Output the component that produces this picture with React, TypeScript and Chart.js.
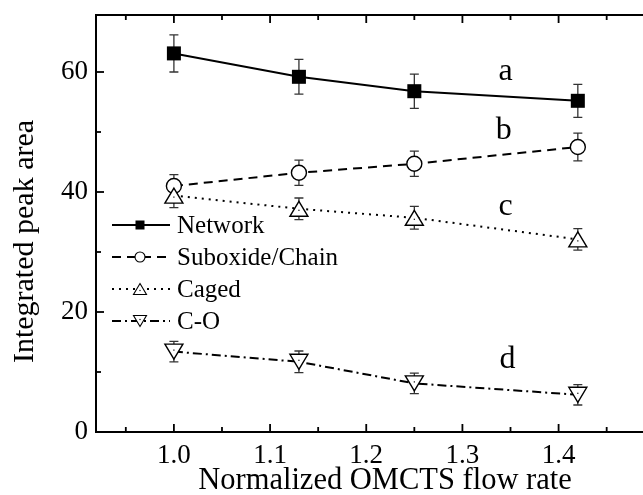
import React, { useEffect, useRef } from 'react';
import { Chart, registerables } from 'chart.js';

Chart.register(...registerables);

// ---- data ----
const flowRates = [1.0, 1.13, 1.25, 1.42];
const networkArea = [63.1, 59.2, 56.8, 55.2];
const networkErr = [3.1, 2.9, 2.85, 2.75];
const suboxideArea = [41.0, 43.2, 44.7, 47.5];
const suboxideErr = [1.9, 2.1, 2.1, 2.3];
const cagedArea = [39.4, 37.2, 35.7, 32.1];
const cagedErr = [2.0, 1.8, 1.9, 1.8];
const coArea = [13.4, 11.7, 8.1, 6.2];
const coErr = [1.7, 1.8, 1.7, 1.7];
const seriesNames = ['Network', 'Suboxide/Chain', 'Caged', 'C-O'];

const curveLabels = ['a', 'b', 'c', 'd'];
const curveLabelX = [1.345, 1.343, 1.345, 1.347];
const curveLabelY = [58.7, 48.9, 36.1, 10.6];

const xMajorTicks = [1.0, 1.1, 1.2, 1.3, 1.4];
const xMinorTicks = [0.95, 1.05, 1.15, 1.25, 1.35, 1.45];
const yMajorTicks = [0, 20, 40, 60];
const yMinorTicks = [10, 30, 50];

const xTitle = 'Normalized OMCTS flow rate';
const yTitle = 'Integrated peak area';

const FONT = "'Liberation Serif', 'DejaVu Serif', serif";

type MarkerKind = 'square' | 'circle' | 'up' | 'down';

function drawMarker(ctx: CanvasRenderingContext2D, kind: MarkerKind, x: number, y: number, w: number, h: number, lw: number) {
  ctx.save();
  ctx.lineWidth = lw;
  ctx.strokeStyle = '#000';
  ctx.fillStyle = '#fff';
  ctx.setLineDash([]);
  ctx.lineJoin = 'miter';
  if (kind === 'square') {
    ctx.fillStyle = '#000';
    ctx.fillRect(x - w / 2, y - h / 2, w, h);
  } else if (kind === 'circle') {
    ctx.beginPath();
    ctx.arc(x, y, w / 2, 0, Math.PI * 2);
    ctx.fill();
    ctx.stroke();
  } else {
    const dir = kind === 'up' ? 1 : -1;
    ctx.beginPath();
    ctx.moveTo(x, y - (dir * h) / 2);
    ctx.lineTo(x + w / 2, y + (dir * h) / 2);
    ctx.lineTo(x - w / 2, y + (dir * h) / 2);
    ctx.closePath();
    ctx.fill();
    ctx.stroke();
    ctx.fillStyle = '#000';
    ctx.fillRect(x - 0.6, y - 0.6 + dir * 1.5, 1.2, 1.2);
  }
  ctx.restore();
}

const errorBarPlugin = {
  id: 'errorBars',
  beforeDatasetsDraw(chart: any) {
    const { ctx, scales } = chart;
    ctx.save();
    ctx.strokeStyle = '#333';
    ctx.lineWidth = 1.3;
    chart.data.datasets.forEach((ds: any) => {
      const errs: number[] = ds.errors || [];
      ds.data.forEach((p: any, i: number) => {
        const e = errs[i];
        if (!e) return;
        const x = scales.x.getPixelForValue(p.x);
        const y1 = scales.y.getPixelForValue(p.y + e);
        const y2 = scales.y.getPixelForValue(p.y - e);
        ctx.beginPath();
        ctx.moveTo(x, y1);
        ctx.lineTo(x, y2);
        ctx.moveTo(x - 4.5, y1);
        ctx.lineTo(x + 4.5, y1);
        ctx.moveTo(x - 4.5, y2);
        ctx.lineTo(x + 4.5, y2);
        ctx.stroke();
      });
    });
    ctx.restore();
  },
};

const markerPlugin = {
  id: 'markers',
  afterDatasetsDraw(chart: any) {
    const { ctx } = chart;
    chart.data.datasets.forEach((ds: any, i: number) => {
      const meta = chart.getDatasetMeta(i);
      meta.data.forEach((el: any) => {
        drawMarker(ctx, ds.marker, el.x, el.y, ds.markerW, ds.markerH, ds.marker === 'square' ? 1 : 1.4);
      });
    });
  },
};

const framePlugin = {
  id: 'frameTicks',
  afterDraw(chart: any) {
    const { ctx, chartArea, scales } = chart;
    const { left, right, top, bottom } = chartArea;
    ctx.save();
    ctx.strokeStyle = '#000';
    ctx.lineWidth = 2;
    ctx.beginPath();
    ctx.moveTo(left - 1, top);
    ctx.lineTo(right + 2, top);
    ctx.stroke();
    ctx.lineWidth = 1.8;
    const drawX = (vals: number[], len: number) => {
      vals.forEach((v) => {
        const x = scales.x.getPixelForValue(v);
        ctx.beginPath();
        ctx.moveTo(x, bottom);
        ctx.lineTo(x, bottom - len);
        ctx.moveTo(x, top);
        ctx.lineTo(x, top + len);
        ctx.stroke();
      });
    };
    const drawY = (vals: number[], len: number) => {
      vals.forEach((v) => {
        const y = scales.y.getPixelForValue(v);
        ctx.beginPath();
        ctx.moveTo(left, y);
        ctx.lineTo(left + len, y);
        ctx.stroke();
      });
    };
    drawX(xMajorTicks, 8);
    drawX(xMinorTicks, 5);
    drawY(yMajorTicks, 8);
    drawY(yMinorTicks, 5);

    // y-axis title
    ctx.save();
    ctx.translate(25, (top + bottom) / 2 + 18);
    ctx.rotate(-Math.PI / 2);
    ctx.fillStyle = '#000';
    ctx.font = `30px ${FONT}`;
    ctx.textAlign = 'center';
    ctx.textBaseline = 'middle';
    ctx.fillText(yTitle, 0, 0);
    ctx.restore();

    ctx.restore();
  },
};

const legendPlugin = {
  id: 'lineLegend',
  afterDraw(chart: any) {
    const { ctx, chartArea } = chart;
    ctx.save();
    chart.data.datasets.forEach((ds: any, i: number) => {
      const y = chartArea.top + 210 + i * 32;
      const x0 = chartArea.left + 16;
      const x1 = chartArea.left + 74;
      ctx.strokeStyle = '#000';
      ctx.lineWidth = ds.borderWidth;
      ctx.setLineDash(ds.borderDash || []);
      ctx.beginPath();
      ctx.moveTo(x0, y);
      ctx.lineTo(x1, y);
      ctx.stroke();
      ctx.setLineDash([]);
      const lw = ds.marker === 'square' ? 9 : ds.marker === 'circle' ? 10 : 13;
      const lh = ds.marker === 'square' ? 9 : ds.marker === 'circle' ? 10 : 11;
      drawMarker(ctx, ds.marker, chartArea.left + 44, y, lw, lh, 1.1);
      ctx.fillStyle = '#000';
      ctx.font = `25px ${FONT}`;
      ctx.textAlign = 'left';
      ctx.textBaseline = 'alphabetic';
      ctx.fillText(seriesNames[i], chartArea.left + 81, y + 8);
    });
    ctx.restore();
  },
};

const curveLabelPlugin = {
  id: 'curveLabels',
  afterDraw(chart: any) {
    const { ctx, scales } = chart;
    ctx.save();
    ctx.fillStyle = '#000';
    ctx.font = `32px ${FONT}`;
    ctx.textAlign = 'center';
    ctx.textBaseline = 'alphabetic';
    curveLabels.forEach((t, i) => {
      ctx.fillText(t, scales.x.getPixelForValue(curveLabelX[i]), scales.y.getPixelForValue(curveLabelY[i]));
    });
    ctx.restore();
  },
};

function pts(ys: number[]) {
  return flowRates.map((x, i) => ({ x, y: ys[i] }));
}

export default function App() {
  const ref = useRef<HTMLCanvasElement | null>(null);

  useEffect(() => {
    if (!ref.current) return;

    const common = {
      borderColor: '#000',
      backgroundColor: '#000',
      borderWidth: 2,
      showLine: true,
      tension: 0,
      fill: false,
      pointRadius: 0,
      pointHoverRadius: 0,
    };

    const chart = new Chart(ref.current, {
      type: 'scatter',
      data: {
        datasets: [
          { ...common, label: seriesNames[0], data: pts(networkArea), errors: networkErr, marker: 'square', markerW: 14, markerH: 14, borderDash: [] } as any,
          { ...common, label: seriesNames[1], data: pts(suboxideArea), errors: suboxideErr, marker: 'circle', markerW: 15, markerH: 15, borderDash: [9, 6] } as any,
          { ...common, label: seriesNames[2], data: pts(cagedArea), errors: cagedErr, marker: 'up', markerW: 18, markerH: 15, borderDash: [2, 5] } as any,
          { ...common, label: seriesNames[3], data: pts(coArea), errors: coErr, marker: 'down', markerW: 18, markerH: 15, borderDash: [9, 4, 2, 4] } as any,
        ],
      },
      options: {
        animation: false,
        responsive: false,
        devicePixelRatio: 1,
        layout: { padding: { top: 15, right: 0, left: 0, bottom: 0 } },
        plugins: {
          legend: { display: false },
          tooltip: { enabled: false },
        },
        scales: {
          x: {
            type: 'linear',
            min: 0.919,
            max: 1.52,
            afterBuildTicks: (s: any) => {
              s.ticks = xMajorTicks.map((v) => ({ value: v }));
            },
            afterFit: (s: any) => {
              s.height = 63;
              s.paddingLeft = 0;
              s.paddingRight = 0;
            },
            ticks: {
              callback: (v: any) => Number(v).toFixed(1),
              font: { family: FONT, size: 27 },
              color: '#000',
              padding: 8,
              maxRotation: 0,
              autoSkip: false,
            },
            grid: { display: true, drawOnChartArea: false, drawTicks: false },
            border: { display: true, color: '#000', width: 2 },
            title: {
              display: true,
              text: xTitle,
              font: { family: FONT, size: 30.5, lineHeight: 0.9 },
              color: '#000',
              padding: { top: 0, bottom: 0 },
            },
          },
          y: {
            type: 'linear',
            min: 0,
            max: 69.5,
            afterBuildTicks: (s: any) => {
              s.ticks = yMajorTicks.map((v) => ({ value: v }));
            },
            afterFit: (s: any) => {
              s.width = 96;
              s.paddingTop = 0;
              s.paddingBottom = 0;
            },
            ticks: {
              callback: (v: any) => String(v),
              font: { family: FONT, size: 27 },
              color: '#000',
              padding: 8,
              autoSkip: false,
            },
            grid: { display: true, drawOnChartArea: false, drawTicks: false },
            border: { display: true, color: '#000', width: 2 },
            title: { display: false },
          },
        },
      } as any,
      plugins: [errorBarPlugin, markerPlugin, framePlugin, legendPlugin, curveLabelPlugin],
    });
    return () => chart.destroy();
  }, []);

  return (
    <div style={{ position: 'fixed', left: 0, top: 0, width: 643, height: 495, overflow: 'hidden', background: '#fff' }}>
      <canvas ref={ref} width={674} height={495} style={{ display: 'block' }} />
    </div>
  );
}
